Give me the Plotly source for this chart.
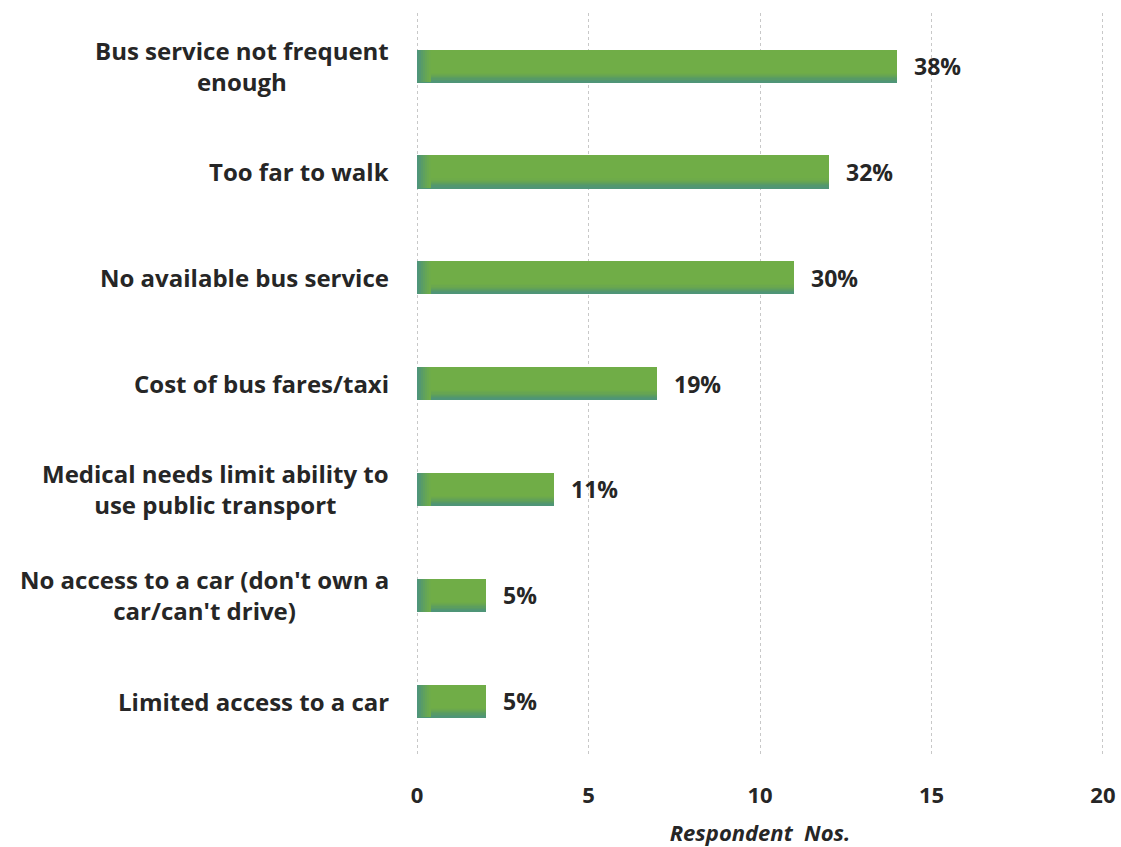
import plotly.graph_objects as go

# Survey responses: reasons given for transport difficulties
categories = [
    "Bus service not frequent<br>enough",
    "Too far to walk",
    "No available bus service",
    "Cost of bus fares/taxi",
    "Medical needs limit ability to<br>use public transport",
    "No access to a car (don't own a<br>car/can't drive)",
    "Limited access to a car",
]
respondents = [14, 12, 11, 7, 4, 2, 2]
pct_labels = ["38%", "32%", "30%", "19%", "11%", "5%", "5%"]
x_ticks = [0, 5, 10, 15, 20]

FONT = "Open Sans"
TEXT = "#262626"
GREEN = "#70AD47"
BAR_W = 0.31

ypos = list(range(len(categories)))

fig = go.Figure()

# main bar body
fig.add_trace(go.Bar(
    y=ypos, x=respondents, orientation="h", width=BAR_W,
    marker=dict(color=GREEN, line=dict(width=0)),
    hoverinfo="skip", showlegend=False,
))

# darker shading towards the lower edge of each bar
shade = ["#6EAB49", "#6BA84D", "#67A551", "#62A257", "#5C9E5E", "#579A66", "#52976F", "#4F9577"]
strip = 0.011
for i, c in enumerate(shade):
    fig.add_trace(go.Bar(
        y=ypos, x=respondents, orientation="h", width=strip,
        offset=BAR_W / 2 - strip * (len(shade) - i),
        marker=dict(color=c, line=dict(width=0)),
        hoverinfo="skip", showlegend=False,
    ))

# darker shading along the left edge of each bar
left = [(0.42, "#6EAC4A"), (0.36, "#6AA94F"), (0.30, "#65A556"),
        (0.24, "#5FA15E"), (0.18, "#599C67"), (0.12, "#539871"), (0.07, "#4F957A")]
for w, c in left:
    fig.add_trace(go.Bar(
        y=ypos, x=[w] * len(ypos), orientation="h", width=BAR_W,
        marker=dict(color=c, line=dict(width=0)),
        hoverinfo="skip", showlegend=False,
    ))

# value labels beside each bar
for y, v, t in zip(ypos, respondents, pct_labels):
    fig.add_annotation(
        x=v, y=y, xref="x", yref="y", text=t, showarrow=False,
        xanchor="left", yanchor="middle", xshift=15,
        font=dict(family=FONT, size=23, color=TEXT, weight="bold"),
    )

# category labels, centred per line
for y, c in zip(ypos, categories):
    fig.add_annotation(
        x=0, y=y, xref="paper", yref="y", text=c, showarrow=False,
        xanchor="right", yanchor="middle", align="center", xshift=-24,
        font=dict(family=FONT, size=24, color=TEXT, weight="bold"),
    )

fig.update_layout(
    width=1121, height=847,
    margin=dict(l=415, r=16, t=13, b=93),
    paper_bgcolor="white", plot_bgcolor="white",
    barmode="overlay", bargap=0,
    xaxis=dict(
        range=[-0.06, 20.06], tickvals=x_ticks, ticktext=[str(v) for v in x_ticks],
        automargin=False,
        showgrid=True, gridcolor="#C8C8C8", griddash="dot", gridwidth=1,
        zeroline=False, showline=False, ticks="",
        tickfont=dict(family=FONT, size=22, color=TEXT, weight="bold"),
        ticklabelstandoff=26,
        title=dict(text="<i>Respondent  Nos.</i>", standoff=22,
                   font=dict(family=FONT, size=22, color=TEXT, weight="bold")),
    ),
    yaxis=dict(
        range=[len(categories) - 0.5, -0.5], showticklabels=False,
        automargin=False,
        showgrid=False, zeroline=False, showline=False, ticks="",
    ),
)

fig.write_html("out.html")
